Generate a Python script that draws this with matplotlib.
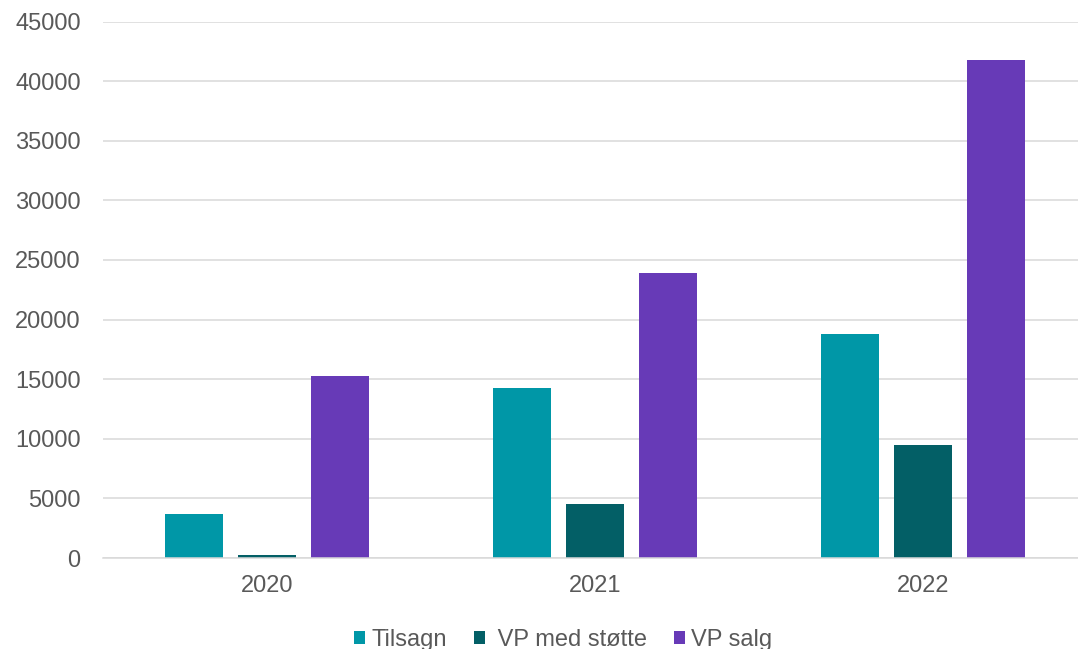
import numpy as np
import matplotlib.pyplot as plt

years = ['2020', '2021', '2022']
series_names = ['Tilsagn', ' VP med støtte', 'VP salg']
tilsagn = [3730, 14260, 18750]
vp_med_stotte = [250, 4510, 9460]
vp_salg = [15300, 23890, 41810]
colors = ['#0097A7', '#035F66', '#673AB7']

plt.rcParams['font.family'] = ['Liberation Sans', 'DejaVu Sans']

fig = plt.figure(figsize=(10.78, 6.49), dpi=100)
ax = fig.add_axes([0.0955, 0.1402, 0.9128, 0.8266])

x = np.arange(len(years))
width = 0.178
pitch = 0.223
for i, (vals, name, c) in enumerate(zip([tilsagn, vp_med_stotte, vp_salg], series_names, colors)):
    ax.bar(x + (i - 1) * pitch, vals, width=width, color=c, label=name, zorder=3)

ax.set_xlim(-0.5, 2.5)
ax.set_ylim(0, 45000)
ax.set_yticks(np.arange(0, 45001, 5000))
ax.set_xticks(x)
ax.set_xticklabels(years)
ax.grid(axis='y', color='#D9D9D9', linewidth=1.1, zorder=0)
for s in ['top', 'right', 'left']:
    ax.spines[s].set_visible(False)
ax.spines['bottom'].set_color('#D9D9D9')
ax.spines['bottom'].set_linewidth(1.1)
ax.spines['bottom'].set_zorder(4)
ax.tick_params(axis='both', length=0, labelsize=17, colors='#595959')
ax.tick_params(axis='y', pad=16)
ax.tick_params(axis='x', pad=12)

fig.legend(loc='center', bbox_to_anchor=(563 / 1078, 1 - 640 / 649), ncol=3, frameon=False,
           fontsize=17, labelcolor='#595959', handlelength=0.47, handleheight=0.47,
           handletextpad=0.25, columnspacing=1.15)

fig.savefig('out.png', dpi=100)
